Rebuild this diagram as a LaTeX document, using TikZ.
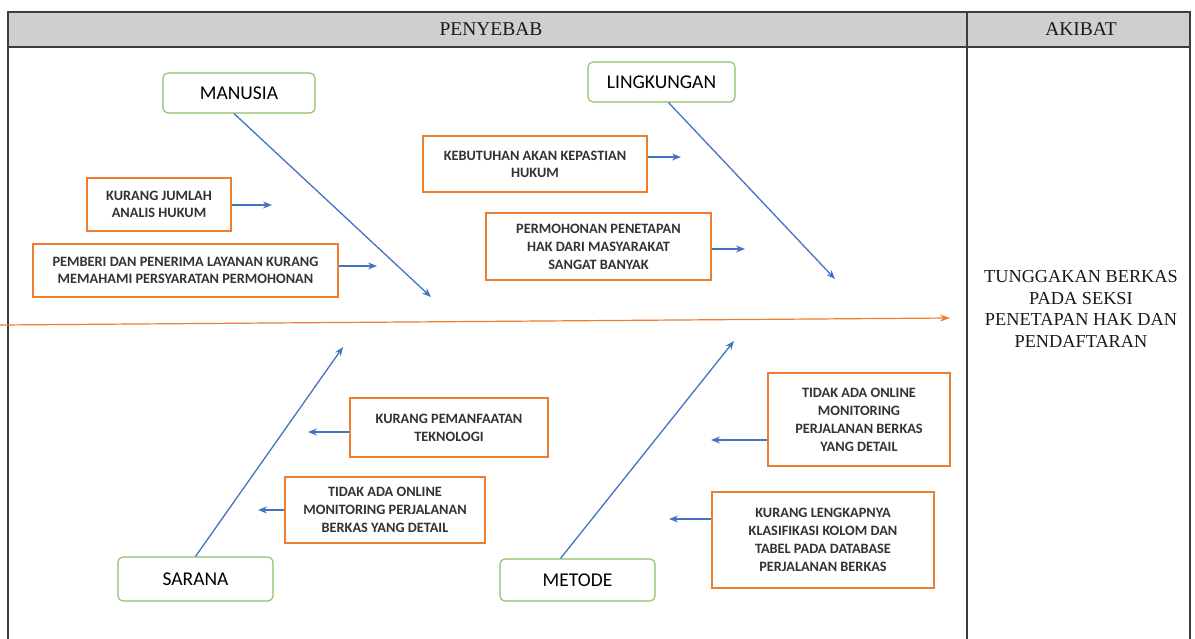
\documentclass[tikz,border=0pt]{standalone}
\usepackage{fontspec}
\setmainfont{Liberation Serif}
\newfontfamily\boxfont{Carlito}
\usetikzlibrary{arrows.meta}
\definecolor{tblline}{RGB}{60,60,60}
\definecolor{hdrfill}{RGB}{208,206,206}
\definecolor{orangeb}{RGB}{237,125,49}
\definecolor{greenb}{RGB}{140,190,100}
\definecolor{bluea}{RGB}{68,114,196}
\tikzset{
  causebox/.style={draw=orangeb, line width=1.8pt, fill=white, align=center,
    font=\boxfont\bfseries\fontsize{14.3}{18}\selectfont, inner sep=0pt, text=black!80},
  catbox/.style={draw=greenb, line width=1.1pt, rounded corners=5pt, fill=white,
    font=\boxfont\fontsize{19.5}{22}\selectfont, inner sep=0pt, text=black},
  barrow/.style={draw=bluea, line width=1.3pt, -{Stealth[length=9pt,width=7pt]}},
  spine/.style={draw=orangeb, line width=1.2pt, -{Stealth[length=10pt,width=7pt]}},
  tbl/.style={draw=tblline, line width=1.2pt},
  hdr/.style={font=\fontsize{19.5}{22}\selectfont, text=black!90},
}
\begin{document}
\begin{tikzpicture}[x=1pt,y=-1pt]
\useasboundingbox (0,0) rectangle (1195,639);
% table
\fill[hdrfill] (8,12) rectangle (1190,47);
\draw[tbl] (8,639) -- (8,12) -- (1190,12) -- (1190,639);
\draw[tbl] (8,47) -- (1190,47);
\draw[tbl] (967,12) -- (967,639);
\node[hdr] (penyebab) at (491,29) {PENYEBAB};
\node[hdr] (akibat) at (1081,29) {AKIBAT};
\node[font=\fontsize{18.3}{21.5}\selectfont, align=center, text=black!90] (effect) at (1081,309)
  {TUNGGAKAN BERKAS\\PADA SEKSI\\PENETAPAN HAK DAN\\PENDAFTARAN};
% spine
\coordinate (spineL) at (0,325);
\coordinate (spineR) at (950,318);
\draw[spine] (spineL) -- (spineR);
% category boxes
\node[catbox, minimum width=152pt, minimum height=40pt] (manusia) at (239,93) {MANUSIA};
\node[catbox, minimum width=147pt, minimum height=40pt] (lingkungan) at (661.5,82) {LINGKUNGAN};
\node[catbox, minimum width=155pt, minimum height=44pt] (sarana) at (195.5,579) {SARANA};
\node[catbox, minimum width=155pt, minimum height=42pt] (metode) at (577.5,580) {METODE};
% bones
\coordinate (tManusia) at (431,297);
\coordinate (tLingkungan) at (835,279);
\coordinate (tSarana) at (343,347);
\coordinate (tMetode) at (734,341);
\draw[barrow] ([xshift=-5pt]manusia.south) -- (tManusia);
\draw[barrow] ([xshift=7pt]lingkungan.south) -- (tLingkungan);
\draw[barrow] (sarana.north) -- (tSarana);
\draw[barrow] ([xshift=-17pt]metode.north) -- (tMetode);
% cause boxes
\node[causebox, minimum width=144pt, minimum height=53pt, font=\boxfont\bfseries\fontsize{14.3}{17}\selectfont] (kurangjumlah) at (159,204.5)
  {KURANG JUMLAH\\ANALIS HUKUM};
\node[causebox, minimum width=305pt, minimum height=53pt, font=\boxfont\bfseries\fontsize{14.3}{17}\selectfont] (pemberi) at (185.5,270.5)
  {PEMBERI DAN PENERIMA LAYANAN KURANG\\MEMAHAMI PERSYARATAN PERMOHONAN};
\node[causebox, minimum width=224pt, minimum height=56pt, font=\boxfont\bfseries\fontsize{14.3}{17}\selectfont] (kebutuhan) at (535,164)
  {KEBUTUHAN AKAN KEPASTIAN\\HUKUM};
\node[causebox, minimum width=225pt, minimum height=67pt] (permohonan) at (598.5,246.5)
  {PERMOHONAN PENETAPAN\\HAK DARI MASYARAKAT\\SANGAT BANYAK};
\node[causebox, minimum width=198pt, minimum height=59pt] (teknologi) at (449,427.5)
  {KURANG PEMANFAATAN\\TEKNOLOGI};
\node[causebox, minimum width=200pt, minimum height=66pt] (tidakL) at (385,510)
  {TIDAK ADA ONLINE\\MONITORING PERJALANAN\\BERKAS YANG DETAIL};
\node[causebox, minimum width=182pt, minimum height=93pt] (tidakR) at (859,419.5)
  {TIDAK ADA ONLINE\\MONITORING\\PERJALANAN BERKAS\\YANG DETAIL};
\node[causebox, minimum width=222pt, minimum height=96pt] (lengkap) at (823,540)
  {KURANG LENGKAPNYA\\KLASIFIKASI KOLOM DAN\\TABEL PADA DATABASE\\PERJALANAN BERKAS};
% cause arrows
\coordinate (aKJ) at (272,205);
\coordinate (aPE) at (377,266);
\coordinate (aKE) at (681,157);
\coordinate (aPM) at (745,249);
\coordinate (aTE) at (308,432);
\coordinate (aTL) at (258,510);
\coordinate (aTR) at (711,440);
\coordinate (aLE) at (669,519);
\draw[barrow] (kurangjumlah.east |- aKJ) -- (aKJ);
\draw[barrow] (pemberi.east |- aPE) -- (aPE);
\draw[barrow] (kebutuhan.east |- aKE) -- (aKE);
\draw[barrow] (permohonan.east |- aPM) -- (aPM);
\draw[barrow] (teknologi.west |- aTE) -- (aTE);
\draw[barrow] (tidakL.west |- aTL) -- (aTL);
\draw[barrow] (tidakR.west |- aTR) -- (aTR);
\draw[barrow] (lengkap.west |- aLE) -- (aLE);
\end{tikzpicture}
\end{document}
